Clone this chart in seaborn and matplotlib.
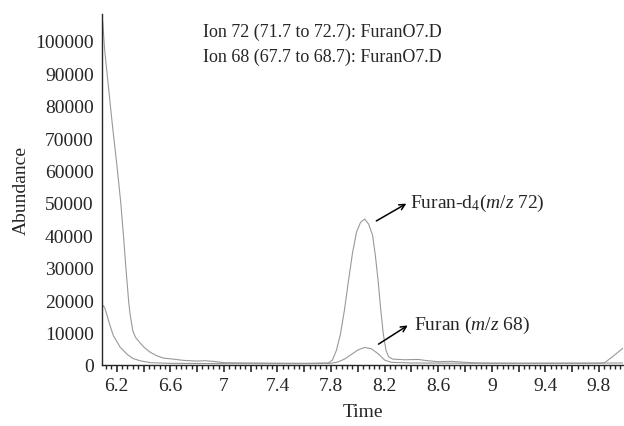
import matplotlib
matplotlib.use("Agg")
import matplotlib.pyplot as plt
from matplotlib.ticker import MultipleLocator, FuncFormatter
import seaborn as sns
import pandas as pd

# Ion 72 trace (Furan-d4)
time_72 = [6.09, 6.095, 6.11, 6.14, 6.17, 6.20, 6.23, 6.25, 6.27, 6.29, 6.30, 6.32,
           6.34, 6.37, 6.40, 6.45, 6.50, 6.55, 6.62, 6.70, 6.80, 6.86, 6.92, 7.00,
           7.20, 7.40, 7.60, 7.78, 7.81, 7.84, 7.87, 7.90, 7.93, 7.96, 7.99, 8.02,
           8.05, 8.08, 8.11, 8.13, 8.15, 8.17, 8.19, 8.21, 8.23, 8.26, 8.35, 8.45,
           8.52, 8.60, 8.70, 8.80, 8.90, 9.20, 9.50, 9.80, 9.84, 9.90, 9.98]
abund_72 = [106500, 106000, 97000, 85000, 73000, 62000, 50000, 40000, 29000, 19000, 15500, 10500,
            8500, 7000, 5600, 3900, 2800, 2100, 1800, 1400, 1200, 1300, 1100, 700,
            600, 550, 500, 600, 1500, 4500, 9500, 17000, 26000, 34500, 41000, 44000,
            45000, 43500, 40000, 34000, 26500, 17500, 9500, 4500, 2500, 1800, 1600, 1700,
            1300, 1000, 1100, 800, 600, 500, 500, 500, 600, 2500, 5200]

# Ion 68 trace (Furan)
time_68 = [6.09, 6.10, 6.113, 6.15, 6.175, 6.225, 6.274, 6.32, 6.373, 6.45, 6.60, 7.00,
           7.60, 7.80, 7.85, 7.90, 7.95, 8.00, 8.05, 8.10, 8.15, 8.20, 8.25, 8.40,
           9.00, 9.98]
abund_68 = [18000, 18300, 17300, 12100, 9000, 5500, 3400, 2000, 1300, 700, 500, 400,
            400, 500, 900, 1800, 3200, 4600, 5400, 5000, 3500, 1500, 800, 600,
            500, 600]

header_lines = ["Ion 72 (71.7 to 72.7): FuranO7.D",
                "Ion 68 (67.7 to 68.7): FuranO7.D"]

sns.set_style("ticks")
plt.rcParams["font.family"] = ["Liberation Serif", "DejaVu Serif"]
plt.rcParams["mathtext.fontset"] = "custom"
plt.rcParams["mathtext.rm"] = "Liberation Serif"
plt.rcParams["mathtext.it"] = "Liberation Serif:italic"

fig = plt.figure(figsize=(6.24, 4.27), dpi=100)
ax = fig.add_axes([0.1635, 0.143, 0.835, 0.822])

df72 = pd.DataFrame({"Time": time_72, "Abundance": abund_72})
df68 = pd.DataFrame({"Time": time_68, "Abundance": abund_68})
sns.lineplot(data=df72, x="Time", y="Abundance", ax=ax, color="#999999", linewidth=0.8)
sns.lineplot(data=df68, x="Time", y="Abundance", ax=ax, color="#999999", linewidth=0.8)

ax.set_xlim(6.09, 9.98)
ax.set_ylim(0, 108300)
sns.despine(ax=ax)
ax.spines["left"].set_linewidth(1.0)
ax.spines["bottom"].set_linewidth(1.0)

ax.xaxis.set_major_locator(MultipleLocator(0.2))
ax.xaxis.set_minor_locator(MultipleLocator(0.04))
ax.xaxis.set_major_formatter(FuncFormatter(
    lambda v, p: (f"{v:g}" if abs(round(v / 0.2)) % 2 == 1 else "")))
ax.yaxis.set_major_locator(MultipleLocator(10000))
ax.yaxis.set_major_formatter(FuncFormatter(lambda v, p: f"{int(v)}"))
ax.tick_params(axis="x", which="major", length=5, width=1.2, labelsize=14, pad=4)
ax.tick_params(axis="x", which="minor", length=3, width=1.0)
ax.tick_params(axis="y", which="major", length=0, labelsize=14, pad=6)

ax.set_xlabel("Time", fontsize=14, labelpad=6)
ax.set_ylabel("Abundance", fontsize=14, labelpad=4)

ax.text(0.193, 0.95, header_lines[0], transform=ax.transAxes, fontsize=13, va="center")
ax.text(0.193, 0.88, header_lines[1], transform=ax.transAxes, fontsize=13, va="center")

ax.annotate("", xy=(8.38, 50200), xytext=(8.12, 44000),
            arrowprops=dict(arrowstyle="->", color="black", lw=1.1))
ax.text(8.39, 50200, r"Furan-d$_4$($m/z$ 72)", fontsize=14, va="center", ha="left")
ax.annotate("", xy=(8.39, 12650), xytext=(8.137, 5960),
            arrowprops=dict(arrowstyle="->", color="black", lw=1.1))
ax.text(8.42, 12650, r"Furan ($m/z$ 68)", fontsize=14, va="center", ha="left")

fig.savefig("out.png", dpi=100)
